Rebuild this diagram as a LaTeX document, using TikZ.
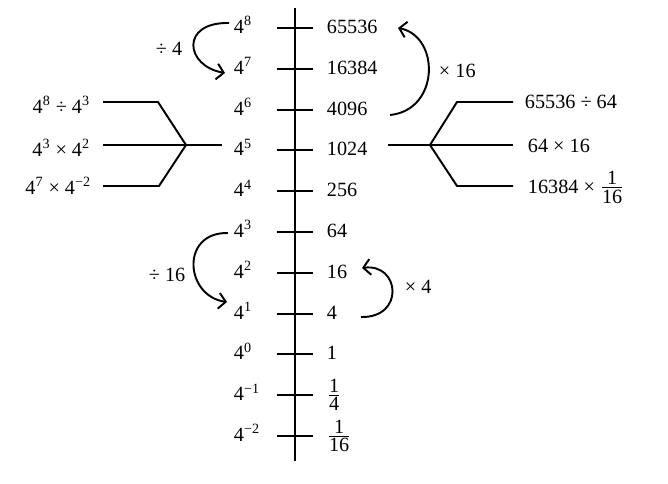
\documentclass[tikz,border=0pt]{standalone}
\usepackage{amsmath}
\usepackage{fontspec}
\setmainfont{Liberation Serif}
\usetikzlibrary{arrows.meta}
\newcommand{\pw}[1]{4\textsuperscript{#1}}
\newcommand{\fr}[2]{$\genfrac{}{}{0.8pt}{1}{\mbox{#1}}{\mbox{#2}}$}

\begin{document}
\begin{tikzpicture}[x=0.02cm, y=-0.02cm, line width=1.1pt,
    every node/.style={font=\fontsize{11.5}{14}\selectfont, inner sep=0pt},
    turn/.style={-{Straight Barb[length=4pt,width=9pt]}}]
        \useasboundingbox (0,0) rectangle (668,483);

        \coordinate (top) at (295,8);
        \coordinate (bot) at (295,461);
        \draw (top) -- (bot);

        \foreach \k/\s/\v in {8/8/65536, 7/7/16384, 6/6/4096, 5/5/1024, 4/4/256,
            3/3/64, 2/2/16, 1/1/4, 0/0/1, -1/−1/{\fr{1}{4}}, -2/−2/{\fr{1}{16}}} {
            \pgfmathsetmacro\ty{28+40.8*(8-\k)}
            \draw (277,\ty) -- (313,\ty);
            \node[anchor=base west] (p\k) at (233,\ty+5.5) {\pw{\s}};
            \node[anchor=base west] (v\k) at (326,\ty+5.5) {\v};
        }

        \coordinate (a1) at (229,23);
        \coordinate (a2) at (225,73);
        \draw[turn] (a1) .. controls (180,22) and (185,66) .. (a2);
        \node[anchor=base west] (d4) at (155,55) {÷ 4};

        \coordinate (b1) at (390,115);
        \coordinate (b2) at (398,28);
        \draw[turn] (b1) .. controls (440,110) and (440,36) .. (b2);
        \node[anchor=base west] (m16) at (438,77) {× 16};

        \coordinate (c1) at (228,233);
        \coordinate (c2) at (227,302);
        \draw[turn] (c1) .. controls (180,232) and (185,296) .. (c2);
        \node[anchor=base west] (d16) at (148,281) {÷ 16};

        \coordinate (e1) at (361,317);
        \coordinate (e2) at (362,268);
        \draw[turn] (e1) .. controls (405,318) and (400,263) .. (e2);
        \node[anchor=base west] (m4) at (404,293) {× 4};

        \node[anchor=base east] (l1) at (91,113) {\pw{8} ÷ \pw{3}};
        \node[anchor=base east] (l2) at (91,156) {\pw{3} × \pw{2}};
        \node[anchor=base east] (l3) at (92,194) {\pw{7} × \pw{−2}};
        \coordinate (jl) at (186,145);
        \draw (103,102) -- (158,102) -- (jl) -- (159,186) -- (103,186);
        \draw (103,145) -- (222,145);

        \node[anchor=base west] (r1) at (524,108) {65536 ÷ 64};
        \node[anchor=base west] (r2) at (527,152) {64 × 16};
        \node[anchor=base west] (r3) at (527,193) {16384 × \fr{1}{16}};
        \coordinate (jr) at (430,145);
        \draw (513,102) -- (457,102) -- (jr) -- (457,186) -- (513,186);
        \draw (388,145) -- (513,145);
    \end{tikzpicture}
\end{document}
